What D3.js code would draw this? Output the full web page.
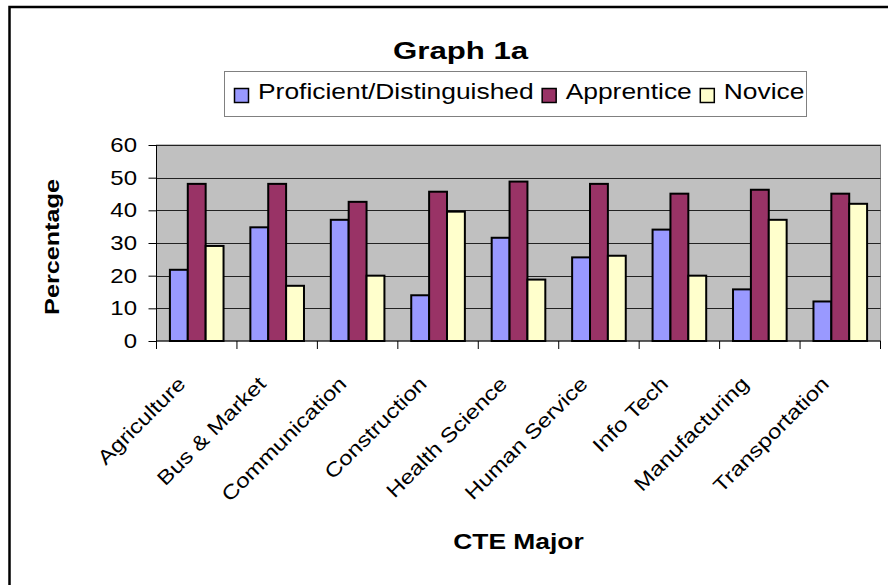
<!DOCTYPE html>
<html>
<head>
  <style>
    body { margin: 0; background: #fff; }
    svg { display: block; font-family: "Liberation Sans", Arial, sans-serif; }
    .bar { stroke: #000; stroke-width: 2; }
    .grid line { stroke: #222; stroke-width: 1; }
  </style>
</head>
<body>
  <svg id="chart" width="888" height="585"></svg>
  <script src="https://d3js.org/d3.v7.min.js"></script>
  <script>
    // values
    const majors = ["Agriculture", "Bus & Market", "Communication", "Construction", "Health Science",
      "Human Service", "Info Tech", "Manufacturing", "Transportation"];
    const series = ["Proficient/Distinguished", "Apprentice", "Novice"];
    const proficient = [21.8, 34.8, 37.1, 14.0, 31.6, 25.6, 34.1, 15.8, 12.1];
    const apprentice = [48.1, 48.1, 42.6, 45.7, 48.8, 48.1, 45.1, 46.3, 45.1];
    const novice = [29.1, 16.9, 20.0, 39.6, 18.8, 26.1, 20.0, 37.1, 42.0];
    const yTicks = [0, 10, 20, 30, 40, 50, 60];
    const colors = ["#9999FF", "#993366", "#FFFFCC"];

    const values = [proficient, apprentice, novice];
    const sx = 1.2; // text in the picture is wider than plain Arial

    const svg = d3.select("#chart");

    // outer chart frame (runs past the right and bottom edges)
    svg.append("rect")
      .attr("x", 9.5).attr("y", 7)
      .attr("width", 1000).attr("height", 1000)
      .attr("fill", "none").attr("stroke", "#000").attr("stroke-width", 2.5);

    const plotL = 156.5, plotR = 880.5, plotT = 145, plotB = 341;

    let x0 = d3.scaleBand().domain(majors).range([plotL, plotR]);
    let x1 = d3.scaleBand().domain(series).range([0, x0.bandwidth()]).paddingOuter(0.75);
    let y = d3.scaleLinear().domain([0, 60]).range([plotB, plotT]);

    // plot area
    svg.append("rect")
      .attr("x", plotL).attr("y", plotT)
      .attr("width", plotR - plotL).attr("height", plotB - plotT)
      .attr("fill", "#C0C0C0").attr("stroke", "#808080").attr("stroke-width", 1);

    // gridlines
    svg.append("g").attr("class", "grid")
      .selectAll("line")
      .data(yTicks.filter(d => d > 0))
      .join("line")
      .attr("x1", plotL).attr("x2", plotR)
      .attr("y1", d => Math.round(y(d)) + 0.5)
      .attr("y2", d => Math.round(y(d)) + 0.5);

    // bars
    majors.forEach((m, i) => {
      svg.append("g")
        .selectAll("rect")
        .data(series)
        .join("rect")
        .attr("class", "bar")
        .attr("x", s => x0(m) + x1(s))
        .attr("y", (s, j) => y(values[j][i]))
        .attr("width", x1.bandwidth())
        .attr("height", (s, j) => plotB - y(values[j][i]))
        .attr("fill", (s, j) => colors[j]);
    });

    // y axis
    svg.append("g")
      .attr("transform", "translate(" + plotL + ",0)")
      .call(d3.axisLeft(y).tickValues(yTicks).tickSize(8).tickFormat(""))
      .call(g => g.select(".domain").attr("d", "M0," + plotT + "V" + plotB).attr("stroke", "#000"))
      .selectAll("line").attr("stroke", "#000");

    svg.append("g")
      .selectAll("text")
      .data(yTicks)
      .join("text")
      .attr("transform", d => "translate(137," + y(d) + ") scale(" + sx + ",1)")
      .attr("dy", "0.35em")
      .attr("text-anchor", "end")
      .attr("font-size", 20)
      .text(d => d);

    // x axis: ticks between categories
    const bounds = majors.map(m => x0(m)).concat([plotR]);
    svg.append("line")
      .attr("x1", plotL).attr("x2", plotR)
      .attr("y1", plotB).attr("y2", plotB)
      .attr("stroke", "#000");
    svg.append("g")
      .selectAll("line")
      .data(bounds)
      .join("line")
      .attr("x1", d => d).attr("x2", d => d)
      .attr("y1", plotB).attr("y2", plotB + 8)
      .attr("stroke", "#000");

    svg.append("g")
      .selectAll("text")
      .data(majors)
      .join("text")
      .attr("transform", d => "translate(" + (x0(d) + x0.bandwidth() / 2 - 10) + ",385) rotate(-45) scale(" + sx + ",1)")
      .attr("text-anchor", "end")
      .attr("font-size", 20)
      .text(d => d);

    // titles
    svg.append("text")
      .attr("transform", "translate(393,59) scale(1.3,1)")
      .attr("font-size", 24).attr("font-weight", "bold")
      .text("Graph 1a");

    svg.append("text")
      .attr("transform", "translate(" + (plotL + plotR) / 2 + ",549) scale(" + sx + ",1)")
      .attr("text-anchor", "middle")
      .attr("font-size", 22).attr("font-weight", "bold")
      .text("CTE Major");

    svg.append("text")
      .attr("transform", "translate(59,247) rotate(-90) scale(" + sx + ",1)")
      .attr("text-anchor", "middle")
      .attr("font-size", 21).attr("font-weight", "bold")
      .text("Percentage");

    // legend
    const legend = svg.append("g");
    legend.append("rect")
      .attr("x", 224.5).attr("y", 71.5)
      .attr("width", 582).attr("height", 45)
      .attr("fill", "#fff").attr("stroke", "#808080");

    let lx = 234;
    series.forEach((s, j) => {
      legend.append("rect")
        .attr("x", lx + 0.5).attr("y", 88.5)
        .attr("width", 14).attr("height", 14)
        .attr("fill", colors[j]).attr("stroke", "#000").attr("stroke-width", 1.5);
      const t = legend.append("text")
        .attr("transform", "translate(" + (lx + 24) + ",99) scale(" + sx + ",1)")
        .attr("font-size", 22)
        .text(s);
      lx += 24 + t.node().getComputedTextLength() * sx + 8;
    });
  </script>
</body>
</html>
